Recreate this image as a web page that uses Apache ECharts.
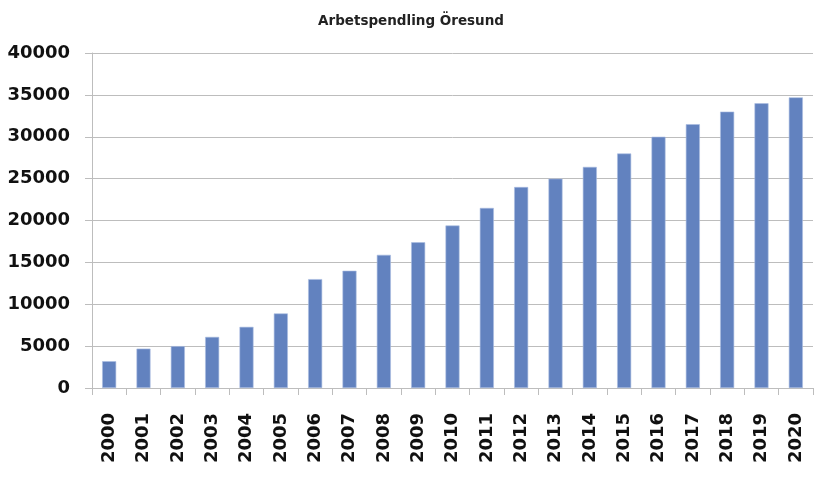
<!DOCTYPE html>
<html>
<head>
<meta charset="utf-8">
<script src="https://cdn.jsdelivr.net/npm/echarts@6/dist/echarts.min.js"></script>
<style>html,body{margin:0;padding:0;background:#fff;}#c{width:822px;height:477px;}</style>
</head>
<body>
<div id="c"></div>
<script>
const titleText = 'Arbetspendling Öresund';
const years = ['2000','2001','2002','2003','2004','2005','2006','2007','2008','2009','2010','2011','2012','2013','2014','2015','2016','2017','2018','2019','2020'];
const commuters = [3200,4700,5000,6100,7300,8900,13000,14000,15900,17400,19400,21500,24000,25000,26400,28000,30000,31500,33000,34000,34700];
const yMin = 0, yMax = 40000, yStep = 5000;

const chart = echarts.init(document.getElementById('c'), null, {renderer:'canvas'});
chart.setOption({
  animation: false,
  backgroundColor: '#fff',
  title: {
    text: titleText, left: 'center', top: 9,
    textStyle: {fontFamily: 'DejaVu Sans', fontSize: 13.5, fontWeight: 'bold', color: '#222'}
  },
  grid: {left: 92, right: 9, top: 53, bottom: 89, containLabel: false},
  xAxis: {
    type: 'category', data: years, boundaryGap: true,
    axisLine: {lineStyle: {color: '#BDBDBD', width: 1}},
    axisTick: {show: true, alignWithLabel: false, length: 7, lineStyle: {color: '#BDBDBD'}},
    axisLabel: {rotate: 90, interval: 0, margin: 25, fontFamily: 'DejaVu Sans', fontSize: 18, fontWeight: 'bold', color: '#111'},
    splitLine: {show: false}
  },
  yAxis: {
    type: 'value', min: yMin, max: yMax, interval: yStep,
    axisLine: {show: true, lineStyle: {color: '#BDBDBD', width: 1}},
    axisTick: {show: true, length: 7, lineStyle: {color: '#BDBDBD'}},
    axisLabel: {margin: 22, fontFamily: 'DejaVu Sans', fontSize: 18, fontWeight: 'bold', color: '#111',
      formatter: function (v) { return String(v); }},
    splitLine: {show: true, lineStyle: {color: '#BDBDBD', width: 1}}
  },
  series: [{
    type: 'bar', data: commuters, barWidth: 14,
    itemStyle: {color: '#6282BF', borderColor: '#A9BCE0', borderWidth: 0.6}
  }]
});
</script>
</body>
</html>
